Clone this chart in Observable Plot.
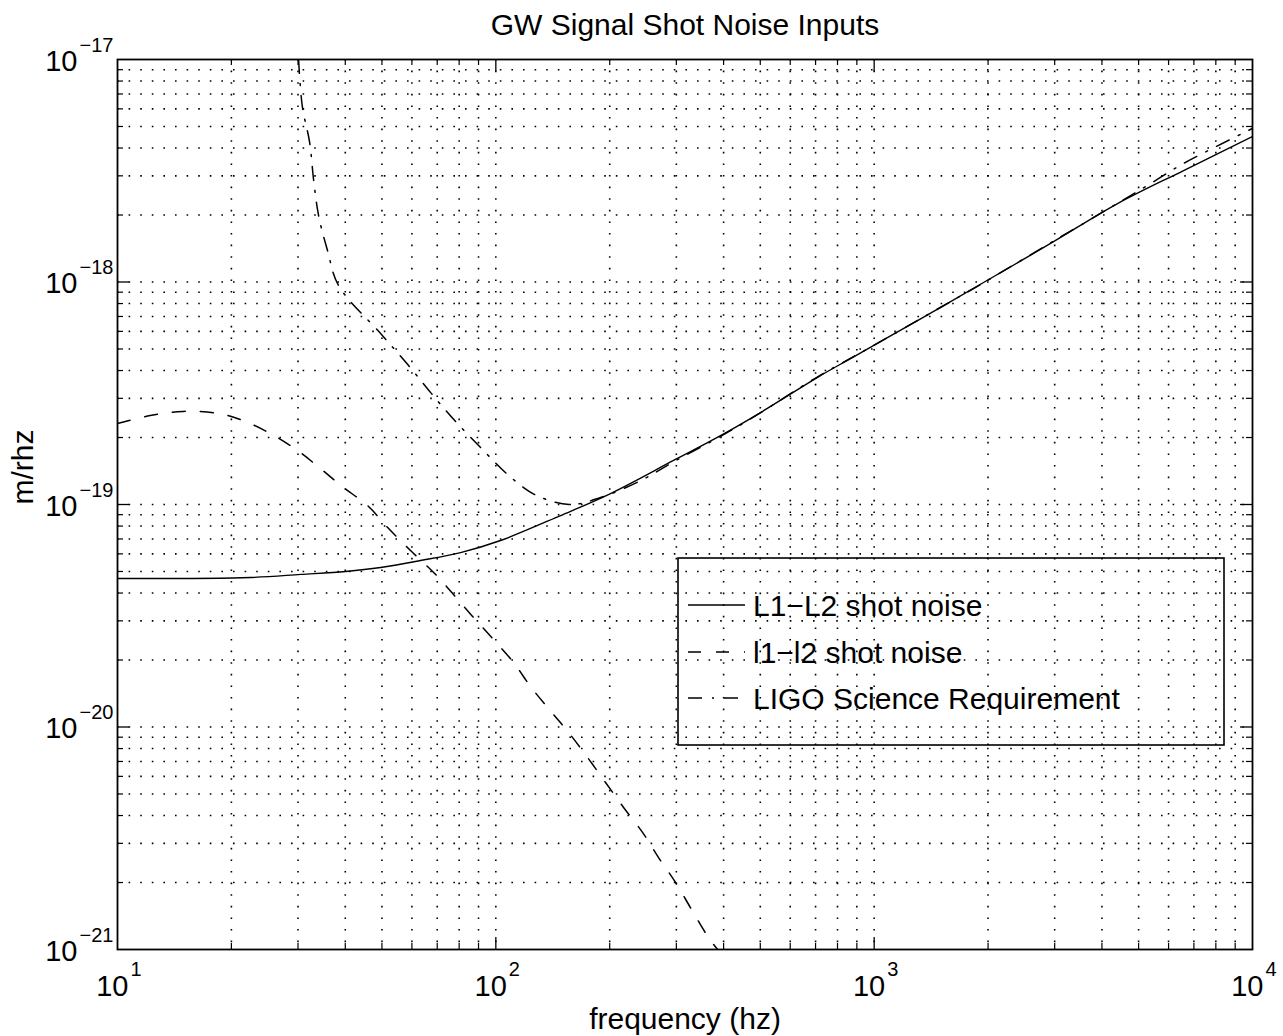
<!DOCTYPE html>
<html><head><meta charset="utf-8">
<script src="https://cdn.jsdelivr.net/npm/d3@7"></script>
<script src="https://cdn.jsdelivr.net/npm/@observablehq/plot@0.6"></script>
<style>
body{margin:0;background:#fff;}
#wrap{position:relative;width:1283px;height:1036px;}
#wrap svg{position:absolute;left:0;top:0;}
</style></head><body><div id="wrap"></div>
<script>
// ---- data ----
const titleText = "GW Signal Shot Noise Inputs";
const xLabel = "frequency (hz)";
const yLabel = "m/rhz";
const seriesNames = ["L1\u2212L2 shot noise", "l1\u2212l2 shot noise", "LIGO Science Requirement"];

const xTicks = [10, 100, 1000, 10000];
const xExps = ["1", "2", "3", "4"];
const yTicks = [1e-21, 1e-20, 1e-19, 1e-18, 1e-17];
const yExps = ["\u221221", "\u221220", "\u221219", "\u221218", "\u221217"];

// L1-L2 shot noise (solid)
const freqL = [10, 22.5, 30.5, 40.1, 49.6, 63.2, 80.7, 102.9, 148.3, 201, 294.9, 392.6, 500.9, 708.7, 866.1, 1302, 1946, 2926, 4399, 6575, 10000];
const ampL = [4.65e-20, 4.70e-20, 4.85e-20, 5.00e-20, 5.21e-20, 5.60e-20, 6.08e-20, 6.89e-20, 8.92e-20, 1.12e-19, 1.577e-19, 2.04e-19, 2.59e-19, 3.73e-19, 4.53e-19, 6.71e-19, 9.95e-19, 1.49e-18, 2.25e-18, 3.17e-18, 4.51e-18];

// l1-l2 shot noise (dashed)
const freqI = [10, 12.2, 14.9, 18.4, 21.5, 25.4, 29.9, 34.4, 39.6, 45.8, 51.7, 59.5, 68.9, 77.3, 86.8, 98.0, 111.4, 123.5, 139.5, 155.7, 174.8, 195.0, 217.6, 244.2, 269.2, 298.6, 327.1, 365.0, 385.7];
const ampI = [2.31e-19, 2.51e-19, 2.62e-19, 2.57e-19, 2.38e-19, 2.08e-19, 1.75e-19, 1.45e-19, 1.19e-19, 9.90e-20, 7.9e-20, 6.21e-20, 4.90e-20, 3.94e-20, 3.14e-20, 2.50e-20, 1.95e-20, 1.52e-20, 1.18e-20, 9.45e-21, 7.29e-21, 5.63e-21, 4.35e-21, 3.36e-21, 2.59e-21, 2.00e-21, 1.54e-21, 1.13e-21, 1.0e-21];

// LIGO Science Requirement (dash-dot)
const freqR = [30.1, 30.8, 32.2, 33.0, 34.0, 35.9, 38.4, 49.6, 58.8, 67.6, 78.3, 91.7, 107.4, 128.1, 157.6, 189.2, 241.3, 300, 400, 500, 700, 1000, 1500, 2000, 2926, 3687, 4480, 5378, 6575, 10000];
const ampR = [1e-17, 6.15e-18, 4.24e-18, 2.86e-18, 1.99e-18, 1.385e-18, 9.64e-19, 5.87e-19, 4.21e-19, 3.15e-19, 2.36e-19, 1.785e-19, 1.364e-19, 1.098e-19, 1.0e-19, 1.075e-19, 1.28e-19, 1.58e-19, 2.06e-19, 2.58e-19, 3.7e-19, 5.2e-19, 7.7e-19, 1.02e-18, 1.5e-18, 1.89e-18, 2.30e-18, 2.77e-18, 3.41e-18, 4.90e-18];

// ---- layout ----
const W = 1283, H = 1036, mL = 117, mR = 31, mT = 59, mB = 87;
const pw = W - mL - mR, ph = H - mT - mB;
const font = "'Liberation Sans', Arial, Helvetica, sans-serif";
const dashI = "13,15", dashR = "14,10,2,10";

const minors = (lo, hi) => { const out = []; for (let d = lo; d < hi; d *= 10) for (let k = 2; k <= 9; k++) out.push(k * d); return out; };
const xMinor = minors(10, 10000);
const yMinor = minors(1e-21, 1e-17);
const xMajorInner = xTicks.slice(1, -1);
const yMajorInner = yTicks.slice(1, -1);
const xGrid = [...xMinor, ...xMajorInner];
const yGrid = [...yMinor, ...yMajorInner];

const toRows = (fs, vs) => fs.map((f, i) => ({f, v: vs[i]}));
const dataL = toRows(freqL, ampL), dataI = toRows(freqI, ampI), dataR = toRows(freqR, ampR);

const gridStyle = {stroke: "#000", strokeWidth: 1.6, strokeDasharray: "1.6,10"};
const chart = Plot.plot({
  width: W, height: H, marginLeft: mL, marginRight: mR, marginTop: mT, marginBottom: mB,
  style: {fontFamily: font, background: "transparent", overflow: "visible"},
  x: {type: "log", domain: [10, 10000], axis: null},
  y: {type: "log", domain: [1e-21, 1e-17], axis: null},
  marks: [
    Plot.ruleX(xGrid, {x: d => d, ...gridStyle}),
    Plot.ruleY(yGrid, {y: d => d, ...gridStyle}),
    // ticks (inward, all sides)
    Plot.tickX(xMajorInner, {x: d => d, insetTop: ph - 12, strokeWidth: 1.3}),
    Plot.tickX(xMajorInner, {x: d => d, insetBottom: ph - 12, strokeWidth: 1.3}),
    Plot.tickX(xMinor, {x: d => d, insetTop: ph - 6, strokeWidth: 1.2}),
    Plot.tickX(xMinor, {x: d => d, insetBottom: ph - 6, strokeWidth: 1.2}),
    Plot.tickY(yMajorInner, {y: d => d, insetRight: pw - 12, strokeWidth: 1.3}),
    Plot.tickY(yMajorInner, {y: d => d, insetLeft: pw - 12, strokeWidth: 1.3}),
    Plot.tickY(yMinor, {y: d => d, insetRight: pw - 6, strokeWidth: 1.2}),
    Plot.tickY(yMinor, {y: d => d, insetLeft: pw - 6, strokeWidth: 1.2}),
    // series
    Plot.line(dataL, {x: "f", y: "v", stroke: "#000", strokeWidth: 1.4, curve: "catmull-rom", clip: true}),
    Plot.line(dataI, {x: "f", y: "v", stroke: "#000", strokeWidth: 1.5, strokeDasharray: dashI, curve: "catmull-rom", clip: true}),
    Plot.line(dataR, {x: "f", y: "v", stroke: "#000", strokeWidth: 1.5, strokeDasharray: dashR, curve: "catmull-rom", clip: true}),
    Plot.frame({stroke: "#000", strokeWidth: 1.8}),
    // tick labels
    Plot.text(xTicks, {x: d => d, text: () => "10", frameAnchor: "bottom", dx: 11, dy: 46, textAnchor: "end", lineAnchor: "bottom", fontSize: 29}),
    Plot.text(xTicks, {x: d => d, text: (d, i) => xExps[i], frameAnchor: "bottom", dx: 13, dy: 26, textAnchor: "start", lineAnchor: "bottom", fontSize: 20}),
    Plot.text(yTicks, {y: d => d, text: () => "10", frameAnchor: "left", dx: -40, dy: 11, textAnchor: "end", lineAnchor: "bottom", fontSize: 29}),
    Plot.text(yTicks, {y: d => d, text: (d, i) => yExps[i], frameAnchor: "left", dx: -38, dy: -8, textAnchor: "start", lineAnchor: "bottom", fontSize: 20}),
    // title and axis labels
    Plot.text([titleText], {text: d => d, frameAnchor: "top", dy: -25, lineAnchor: "bottom", fontSize: 30}),
    Plot.text([xLabel], {text: d => d, frameAnchor: "bottom", dy: 79, lineAnchor: "bottom", fontSize: 30}),
    Plot.text([yLabel], {text: d => d, frameAnchor: "left", dx: -85, rotate: -90, lineAnchor: "bottom", fontSize: 30})
  ]
});
const wrap = document.getElementById("wrap");
wrap.appendChild(chart);

// ---- legend overlay ----
const leg = d3.select(wrap).append("svg").attr("width", W).attr("height", H)
  .style("font-family", font).style("pointer-events", "none");
const box = {x: 678, y: 558, w: 546, h: 187};
leg.append("rect").attr("x", box.x).attr("y", box.y).attr("width", box.w).attr("height", box.h)
  .attr("fill", "none").attr("stroke", "#000").attr("stroke-width", 1.6);
const rowsY = [605, 652, 698];
const dashes = [null, dashI, dashR];
seriesNames.forEach((name, i) => {
  leg.append("line").attr("x1", 688).attr("x2", 745).attr("y1", rowsY[i]).attr("y2", rowsY[i])
    .attr("stroke", "#000").attr("stroke-width", 1.4).attr("stroke-dasharray", dashes[i]);
  leg.append("text").attr("x", 753).attr("y", rowsY[i] + 11).attr("font-size", 30).text(name);
});
</script></body></html>
